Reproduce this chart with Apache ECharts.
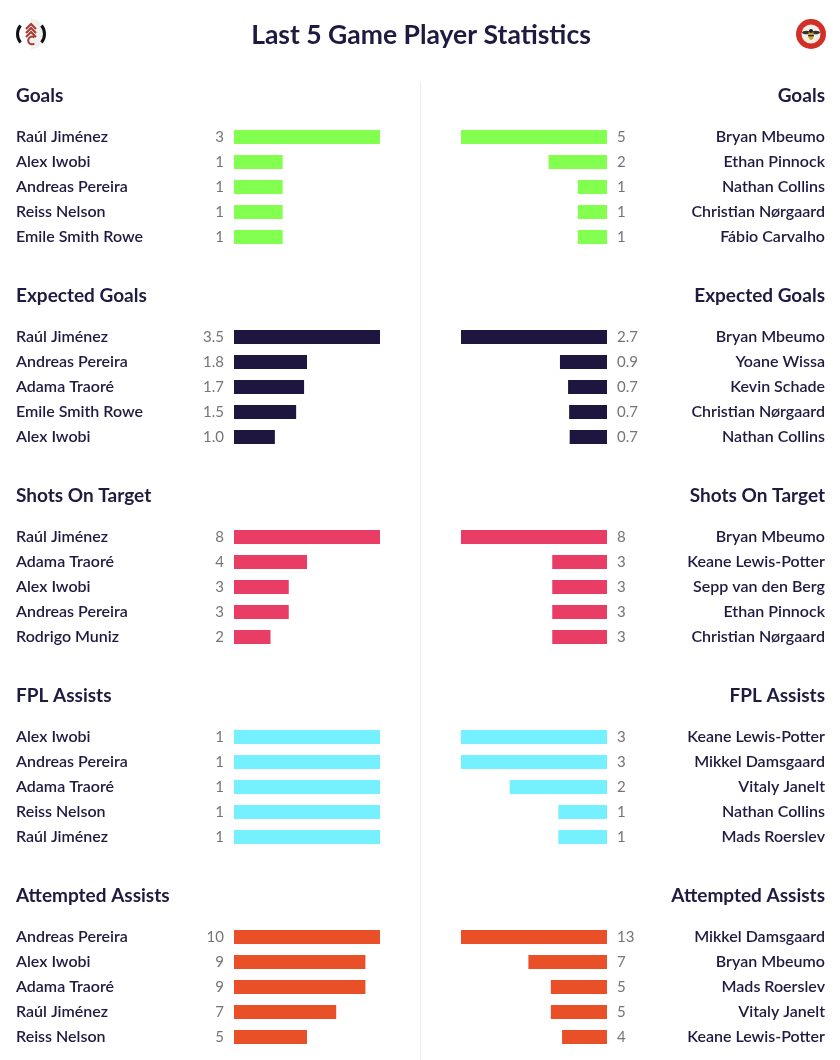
<!DOCTYPE html>
<html>
<head>
<meta charset="utf-8">
<style>
html, body { margin: 0; padding: 0; background: #fff; }
#chart { width: 840px; height: 1060px; }
</style>
<script src="https://cdn.jsdelivr.net/npm/echarts@6/dist/echarts.min.js"></script>
</head>
<body>
<div id="chart"></div>
<script>
var chartTitle = 'Last 5 Game Player Statistics';
var statNames = ['Goals', 'Expected Goals', 'Shots On Target', 'FPL Assists', 'Attempted Assists'];

var fulhamPlayers = [
    ['Raúl Jiménez', 'Alex Iwobi', 'Andreas Pereira', 'Reiss Nelson', 'Emile Smith Rowe'],
    ['Raúl Jiménez', 'Andreas Pereira', 'Adama Traoré', 'Emile Smith Rowe', 'Alex Iwobi'],
    ['Raúl Jiménez', 'Adama Traoré', 'Alex Iwobi', 'Andreas Pereira', 'Rodrigo Muniz'],
    ['Alex Iwobi', 'Andreas Pereira', 'Adama Traoré', 'Reiss Nelson', 'Raúl Jiménez'],
    ['Andreas Pereira', 'Alex Iwobi', 'Adama Traoré', 'Raúl Jiménez', 'Reiss Nelson']
];
var fulhamValues = [
    [3, 1, 1, 1, 1],
    [3.5, 1.75, 1.68, 1.49, 0.98],
    [8, 4, 3, 3, 2],
    [1, 1, 1, 1, 1],
    [10, 9, 9, 7, 5]
];

var brentfordPlayers = [
    ['Bryan Mbeumo', 'Ethan Pinnock', 'Nathan Collins', 'Christian Nørgaard', 'Fábio Carvalho'],
    ['Bryan Mbeumo', 'Yoane Wissa', 'Kevin Schade', 'Christian Nørgaard', 'Nathan Collins'],
    ['Bryan Mbeumo', 'Keane Lewis-Potter', 'Sepp van den Berg', 'Ethan Pinnock', 'Christian Nørgaard'],
    ['Keane Lewis-Potter', 'Mikkel Damsgaard', 'Vitaly Janelt', 'Nathan Collins', 'Mads Roerslev'],
    ['Mikkel Damsgaard', 'Bryan Mbeumo', 'Mads Roerslev', 'Vitaly Janelt', 'Keane Lewis-Potter']
];
var brentfordValues = [
    [5, 2, 1, 1, 1],
    [2.7, 0.87, 0.72, 0.7, 0.69],
    [8, 3, 3, 3, 3],
    [3, 3, 2, 1, 1],
    [13, 7, 5, 5, 4]
];

var barColors = ['#83ff4f', '#1f1640', '#e93d66', '#74f0ff', '#e95028'];

var FONT = 'Lato';
var INK = '#1e1a40';

var titles = [{
    text: chartTitle,
    left: 421,
    top: 35,
    padding: 0,
    textAlign: 'center',
    textVerticalAlign: 'middle',
    textStyle: { fontFamily: FONT, fontSize: 26.5, fontWeight: 700, color: INK }
}];
var grids = [], xAxes = [], yAxes = [], seriesList = [];

// one grid per panel, the left column grows right and the right column is mirrored
function addPanel(stat, players, values, isRight) {
    var idx = grids.length;
    var top = 124.5 + stat * 200;
    grids.push({
        left: isRight ? 461 : 234,
        top: top,
        width: 146,
        height: 125,
        containLabel: false
    });
    xAxes.push({
        gridIndex: idx,
        type: 'value',
        min: 0,
        max: Math.max.apply(null, values),
        inverse: isRight,
        show: false
    });
    yAxes.push({
        gridIndex: idx,
        type: 'category',
        data: players,
        inverse: true,
        position: isRight ? 'right' : 'left',
        axisLine: { show: false },
        axisTick: { show: false },
        axisLabel: {
            margin: 218,
            align: isRight ? 'right' : 'left',
            fontFamily: FONT,
            fontSize: 16,
            fontWeight: 600,
            color: INK
        }
    });
    seriesList.push({
        type: 'bar',
        xAxisIndex: idx,
        yAxisIndex: idx,
        data: values,
        barWidth: 14,
        silent: true,
        animation: false,
        itemStyle: { color: barColors[stat] },
        label: {
            show: true,
            position: isRight ? 'right' : 'left',
            distance: 10,
            fontFamily: FONT,
            fontSize: 15,
            fontWeight: 400,
            color: '#757575',
            formatter: function (p) {
                return stat === 1 ? p.value.toFixed(1) : String(p.value);
            }
        }
    });
    titles.push({
        text: statNames[stat],
        top: 96 + stat * 200,
        padding: 0,
        textVerticalAlign: 'middle',
        left: isRight ? 825 : 16,
        textAlign: isRight ? 'right' : 'left',
        textStyle: { fontFamily: FONT, fontSize: 19, fontWeight: 700, color: INK }
    });
}

statNames.forEach(function (name, i) {
    addPanel(i, fulhamPlayers[i], fulhamValues[i], false);
    addPanel(i, brentfordPlayers[i], brentfordValues[i], true);
});

// crests, only rough drawings of the two badges
var fulhamCrest = {
    type: 'group',
    x: 31,
    y: 34,
    children: [
        { type: 'circle', shape: { cx: 0, cy: 0, r: 15 }, style: { fill: '#f0f0f0' } },
        { type: 'rect', shape: { x: -15, y: -15, width: 15, height: 30 }, style: { fill: '#fff' } },
        { type: 'arc', shape: { cx: 0, cy: 0, r: 13.5, startAngle: 2.46, endAngle: 3.82 }, style: { stroke: '#111', lineWidth: 3, fill: null } },
        { type: 'arc', shape: { cx: 0, cy: 0, r: 13.5, startAngle: -0.68, endAngle: 0.68 }, style: { stroke: '#111', lineWidth: 3, fill: null } },
        { type: 'polyline', shape: { points: [[-5, -5], [0, -10], [5, -5]] }, style: { stroke: '#a83a32', lineWidth: 2, fill: null } },
        { type: 'polyline', shape: { points: [[-5, -1], [0, -6], [5, -1]] }, style: { stroke: '#a83a32', lineWidth: 2, fill: null } },
        { type: 'polyline', shape: { points: [[-5, 3], [0, -2], [5, 3]] }, style: { stroke: '#a83a32', lineWidth: 2, fill: null } },
        { type: 'arc', shape: { cx: 1, cy: 6.5, r: 3.8, startAngle: 0.9, endAngle: 5.4 }, style: { stroke: '#a83a32', lineWidth: 2, fill: null } }
    ]
};
var brentfordCrest = {
    type: 'group',
    x: 811,
    y: 34,
    children: [
        { type: 'circle', shape: { cx: 0, cy: 0, r: 15 }, style: { fill: '#d22f26' } },
        { type: 'circle', shape: { cx: 0, cy: 0, r: 9.5 }, style: { fill: '#f4efe6' } },
        { type: 'ellipse', shape: { cx: -4.5, cy: -1.5, rx: 4.5, ry: 1.8 }, style: { fill: '#333' } },
        { type: 'ellipse', shape: { cx: 4.5, cy: -1.5, rx: 4.5, ry: 1.8 }, style: { fill: '#333' } },
        { type: 'ellipse', shape: { cx: 0, cy: 1, rx: 2.8, ry: 5 }, style: { fill: '#c9a227' } },
        { type: 'circle', shape: { cx: 0, cy: -3, r: 2 }, style: { fill: '#222' } },
        { type: 'rect', shape: { x: -2.8, y: 1, width: 5.6, height: 1.3 }, style: { fill: '#222' } }
    ]
};
var divider = {
    type: 'line',
    shape: { x1: 420.5, y1: 82, x2: 420.5, y2: 1060 },
    style: { stroke: '#ececec', lineWidth: 1 }
};

var chart = echarts.init(document.getElementById('chart'));
chart.setOption({
    backgroundColor: '#fff',
    animation: false,
    title: titles,
    grid: grids,
    xAxis: xAxes,
    yAxis: yAxes,
    series: seriesList,
    graphic: [divider, fulhamCrest, brentfordCrest]
});
</script>
</body>
</html>
